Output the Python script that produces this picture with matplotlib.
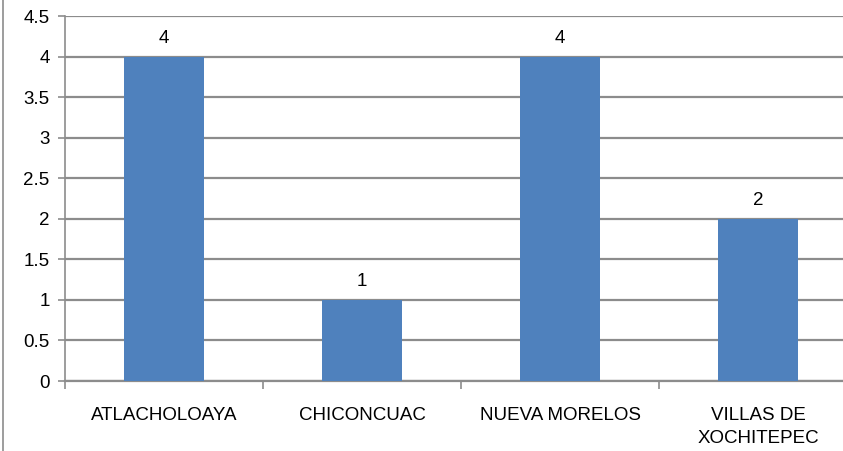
import matplotlib
matplotlib.use("Agg")
from matplotlib import pyplot as plt
from matplotlib.lines import Line2D
import numpy as np

plt.rcParams['font.family'] = ['Liberation Sans', 'DejaVu Sans']

categories = ['ATLACHOLOAYA', 'CHICONCUAC', 'NUEVA MORELOS', 'VILLAS DE\nXOCHITEPEC']
values = [4, 1, 4, 2]
yticks = [0, 0.5, 1, 1.5, 2, 2.5, 3, 3.5, 4, 4.5]
ytick_labels = ['0', '0.5', '1', '1.5', '2', '2.5', '3', '3.5', '4', '4.5']

W, H = 843, 451
fig = plt.figure(figsize=(W / 100, H / 100), dpi=100)
# plot area runs past the right edge like the cropped original
left, right, top, bottom = 65, 857, 16, 381
ax = fig.add_axes([left / W, 1 - bottom / H, (right - left) / W, (bottom - top) / H])

fs = 13.5
x = np.arange(len(categories))
bars = ax.bar(x, values, width=0.4, color='#4F81BD', zorder=3)
for xi, v in zip(x, values):
    ax.text(xi, v + 0.12, str(v), ha='center', va='bottom', fontsize=fs, color='#000000')

ax.set_xlim(-0.5, len(categories) - 0.5)
ax.set_ylim(0, 4.5)
ax.set_yticks(yticks)
ax.set_yticklabels(ytick_labels, fontsize=fs)
ax.yaxis.grid(True, color='#8c8c8c', linewidth=1.6, zorder=0)
ax.set_axisbelow(True)

ax.set_xticks(x)
ax.set_xticklabels(categories, fontsize=fs, linespacing=1.45)
ax.set_xticks(np.arange(len(categories) + 1) - 0.5, minor=True)
ax.tick_params(axis='x', which='major', length=0, pad=19)
ax.tick_params(axis='x', which='minor', length=6, width=1.2, color='#8c8c8c', direction='out')
ax.tick_params(axis='y', length=5, width=1.2, color='#8c8c8c', pad=6)

for s in ['top', 'right']:
    ax.spines[s].set_visible(False)
ax.spines['left'].set_color('#8c8c8c')
ax.spines['left'].set_linewidth(1.2)
ax.spines['bottom'].set_color('#8c8c8c')
ax.spines['bottom'].set_linewidth(1.6)

# outer chart border on the left
fig.add_artist(Line2D([3.5 / W, 3.5 / W], [0, 1], transform=fig.transFigure, color='#8c8c8c', linewidth=1.2))

fig.savefig('out.png', dpi=100)
